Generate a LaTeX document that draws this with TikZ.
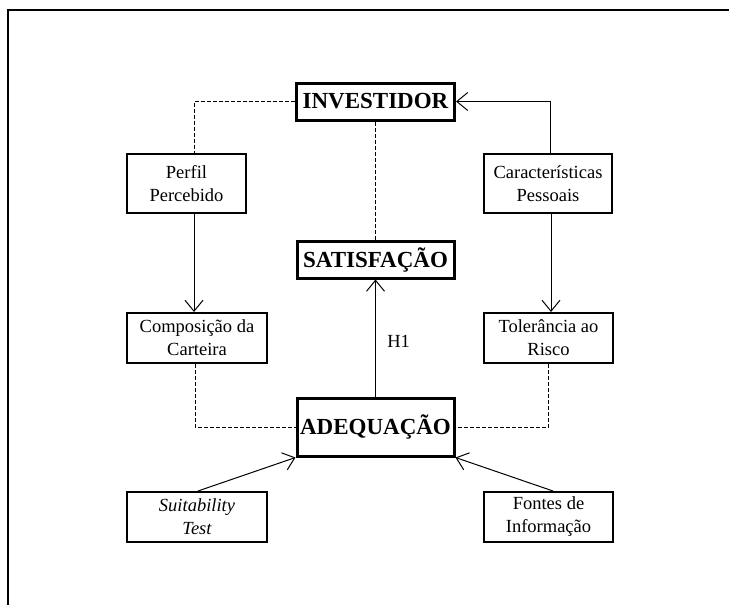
\documentclass[tikz,border=0pt]{standalone}
\usepackage{fontspec}
\setmainfont{Liberation Serif}
\usetikzlibrary{arrows.meta}
\begin{document}
\begin{tikzpicture}[x=1pt,y=-1pt,
  bigbox/.style={draw, line width=3pt, rectangle, inner sep=0pt, align=center,
    font=\fontsize{23}{27}\selectfont\bfseries},
  smallbox/.style={draw, line width=2pt, rectangle, inner sep=0pt, align=center,
    font=\fontsize{18.5}{23}\selectfont},
  conn/.style={line width=1pt},
  dconn/.style={line width=1pt, dash pattern=on 4pt off 2pt},
  arr/.style={conn, -{Straight Barb[length=11pt,width=18pt,line width=1pt]}}
]
\useasboundingbox (0,0) rectangle (729,605);
% frame
\draw[line width=2pt] (8,605) -- (8,10) -- (729,10);

\node[bigbox, minimum width=158pt, minimum height=37pt] (inv) at (375.5,101.5) {INVESTIDOR};
\node[bigbox, minimum width=157pt, minimum height=37pt] (sat) at (375.5,259.5) {SATISFAÇÃO};
\node[bigbox, minimum width=157pt, minimum height=58pt] (ade) at (375.5,427) {ADEQUAÇÃO};

\node[smallbox, minimum width=119pt, minimum height=59pt] (perf) at (186.5,183.5) {Perfil\\Percebido};
\node[smallbox, minimum width=128pt, minimum height=59pt] (car) at (548,183.5) {Características\\Pessoais};
\node[smallbox, minimum width=140pt, minimum height=50pt] (comp) at (197,338) {Composição da\\Carteira};
\node[smallbox, minimum width=129pt, minimum height=50pt] (tol) at (548.5,338) {Tolerância ao\\Risco};
\node[smallbox, minimum width=140pt, minimum height=50pt] (suit) at (197,517) {\itshape Suitability\\\itshape Test};
\node[smallbox, minimum width=129pt, minimum height=50pt] (font) at (548.5,517) {Fontes de\\Informação};

% dashed links
\draw[dconn] (inv.west) -| ([xshift=7.5pt]perf.north);
\draw[dconn] (inv.south) -- (sat.north);
\draw[dconn] ([xshift=-2pt]comp.south) |- (ade.west);
\draw[dconn] (tol.south) |- (ade.east);

% solid arrows
\draw[arr] ([xshift=2.5pt]car.north) |- (inv.east);
\draw[arr] ([xshift=7.5pt]perf.south) -- ([xshift=-3pt]comp.north);
\draw[arr] ([xshift=3pt]car.south) -- ([xshift=2.5pt]tol.north);
\draw[arr] (ade.north) -- node[pos=0.47, right, xshift=8pt, font=\fontsize{18.5}{23}\selectfont] (h1) {H1} (sat.south);
\draw[arr] ([xshift=1pt]suit.north) -- (ade.south west);
\draw[arr] ([xshift=4.5pt]font.north) -- (ade.south east);
\end{tikzpicture}
\end{document}
